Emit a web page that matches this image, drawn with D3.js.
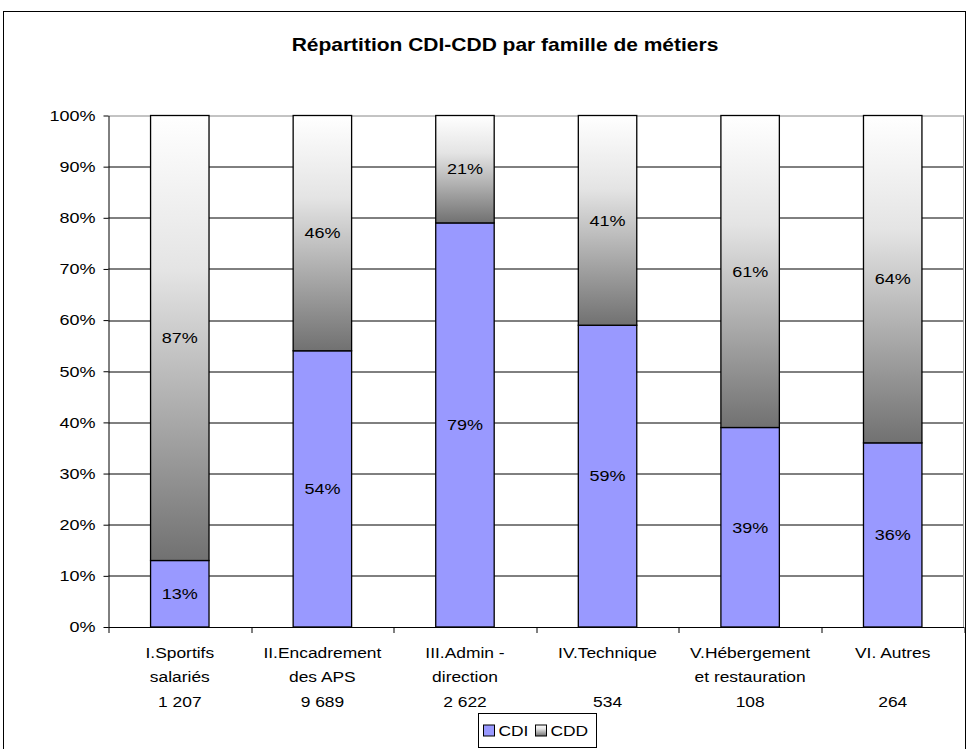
<!DOCTYPE html>
<html>
<head>
<meta charset="utf-8">
<script src="https://cdn.jsdelivr.net/npm/d3@7"></script>
<style>
  body { margin: 0; background: #fff; }
  text { font-family: "Liberation Sans", Arial, sans-serif; }
</style>
</head>
<body>
<div id="chart"></div>
<script>
// chart values
var categories = ["I.Sportifs salariés", "II.Encadrement des APS", "III.Admin - direction",
                  "IV.Technique", "V.Hébergement et restauration", "VI. Autres"];
var labelLines = [["I.Sportifs", "salariés", "1 207"],
                  ["II.Encadrement", "des APS", "9 689"],
                  ["III.Admin -", "direction", "2 622"],
                  ["IV.Technique", "", "534"],
                  ["V.Hébergement", "et restauration", "108"],
                  ["VI. Autres", "", "264"]];
var cdi = [13, 54, 79, 59, 39, 36];
var cdd = [87, 46, 21, 41, 61, 64];
var yTicks = [0, 10, 20, 30, 40, 50, 60, 70, 80, 90, 100];
var series = ["CDI", "CDD"];

var W = 969, H = 749;
var margin = {top: 115.5, right: 5, bottom: 122, left: 108.5},
    width = W - margin.left - margin.right,
    height = H - margin.top - margin.bottom;

// the original text is a bit wide, stretch it horizontally
var SX = 1.2;
function place(px, py) { return "translate(" + px + "," + py + ") scale(" + SX + ",1)"; }

var svg = d3.select("#chart")
  .append("svg")
    .attr("width", W)
    .attr("height", H);

// gradient for CDD
var defs = svg.append("defs");
var grad = defs.append("linearGradient")
    .attr("id", "cddGrad")
    .attr("x1", 0).attr("y1", 0).attr("x2", 0).attr("y2", 1);
grad.append("stop").attr("offset", "0%").attr("stop-color", "#ffffff");
grad.append("stop").attr("offset", "35%").attr("stop-color", "#e4e4e4");
grad.append("stop").attr("offset", "100%").attr("stop-color", "#717171");

// outer frame
svg.append("rect")
    .attr("x", 3.5).attr("y", 11.5)
    .attr("width", 962).attr("height", 760)
    .attr("fill", "none").attr("stroke", "#000").attr("stroke-width", 1);

// title
svg.append("text")
    .attr("transform", place(505, 51))
    .attr("text-anchor", "middle")
    .style("font-size", "17.5px").style("font-weight", "bold")
    .text("Répartition CDI-CDD par famille de métiers");

var g = svg.append("g")
    .attr("transform", "translate(" + margin.left + "," + margin.top + ")");

var x = d3.scaleBand().domain(categories).range([0, width]).paddingInner(0.59).paddingOuter(0.295);
var y = d3.scaleLinear().domain([0, 100]).range([height, 0]);

// gridlines
g.selectAll(".grid")
  .data(yTicks.slice(1))
  .enter().append("line")
    .attr("x1", 0).attr("x2", width)
    .attr("y1", function(d) { return Math.round(y(d)) + 0.5; })
    .attr("y2", function(d) { return Math.round(y(d)) + 0.5; })
    .attr("stroke", function(d) { return d === 100 ? "#888" : "#000"; })
    .attr("stroke-width", 1);

// right edge of plot area
g.append("line")
    .attr("x1", width - 0.5).attr("x2", width - 0.5)
    .attr("y1", 0).attr("y2", height)
    .attr("stroke", "#999");

var stacked = categories.map(function(c, i) {
  return {cat: c, cdi: cdi[i], cdd: cdd[i]};
});

var bars = g.selectAll(".bar")
  .data(stacked)
  .enter().append("g");

bars.append("rect")
    .attr("x", function(d) { return x(d.cat); })
    .attr("width", x.bandwidth())
    .attr("y", function(d) { return y(d.cdi); })
    .attr("height", function(d) { return y(0) - y(d.cdi); })
    .attr("fill", "#9999ff")
    .attr("stroke", "#000").attr("stroke-width", 1.3);

bars.append("rect")
    .attr("x", function(d) { return x(d.cat); })
    .attr("width", x.bandwidth())
    .attr("y", function(d) { return y(d.cdi + d.cdd); })
    .attr("height", function(d) { return y(d.cdi) - y(d.cdi + d.cdd); })
    .attr("fill", "url(#cddGrad)")
    .attr("stroke", "#000").attr("stroke-width", 1.3);

// value labels
bars.append("text")
    .attr("transform", function(d) { return place(x(d.cat) + x.bandwidth() / 2, y(d.cdi / 2)); })
    .attr("dy", "0.35em")
    .attr("text-anchor", "middle")
    .style("font-size", "15px")
    .text(function(d) { return d.cdi + "%"; });

bars.append("text")
    .attr("transform", function(d) { return place(x(d.cat) + x.bandwidth() / 2, y(d.cdi + d.cdd / 2)); })
    .attr("dy", "0.35em")
    .attr("text-anchor", "middle")
    .style("font-size", "15px")
    .text(function(d) { return d.cdd + "%"; });

// y axis
var yAxis = d3.axisLeft(y).tickValues(yTicks).tickSize(5).tickSizeOuter(0)
    .tickFormat(function(d) { return d + "%"; });
var ya = g.append("g").call(yAxis);
ya.select(".domain").attr("stroke", "#000");
ya.selectAll("text")
    .style("font-size", "15px").attr("fill", "#000")
    .attr("x", null)
    .attr("transform", place(-13, 0));

// x axis with ticks at category boundaries
var boundaries = d3.range(categories.length + 1).map(function(i) { return i * width / categories.length; });
g.append("line")
    .attr("x1", 0).attr("x2", width)
    .attr("y1", height + 0.5).attr("y2", height + 0.5)
    .attr("stroke", "#000");
g.selectAll(".xtick")
  .data(boundaries)
  .enter().append("line")
    .attr("x1", function(d) { return Math.round(d) + 0.5; })
    .attr("x2", function(d) { return Math.round(d) + 0.5; })
    .attr("y1", height).attr("y2", height + 6)
    .attr("stroke", "#000");

// category labels
var lab = g.selectAll(".xlab")
  .data(categories)
  .enter().append("text")
    .attr("text-anchor", "middle")
    .attr("transform", function(d) { return place(x(d) + x.bandwidth() / 2, height + 31); })
    .style("font-size", "14.5px");
lab.selectAll("tspan")
  .data(function(d, i) { return labelLines[i]; })
  .enter().append("tspan")
    .attr("x", 0)
    .attr("y", function(d, j) { return j * 24.5; })
    .text(function(d) { return d; });

// legend
var leg = svg.append("g").attr("transform", "translate(478.5,713.5)");
leg.append("rect").attr("width", 118).attr("height", 34)
    .attr("fill", "#fff").attr("stroke", "#000");
var items = leg.selectAll(".li").data(series).enter().append("g")
    .attr("transform", function(d, i) { return "translate(" + (5 + i * 52) + ",0)"; });
items.append("rect")
    .attr("x", 0).attr("y", 11.5).attr("width", 11).attr("height", 11)
    .attr("fill", function(d) { return d === "CDI" ? "#9999ff" : "url(#cddGrad)"; })
    .attr("stroke", "#000");
items.append("text")
    .attr("transform", place(15, 17))
    .attr("dy", "0.35em")
    .style("font-size", "14.5px")
    .text(function(d) { return d; });
</script>
</body>
</html>
